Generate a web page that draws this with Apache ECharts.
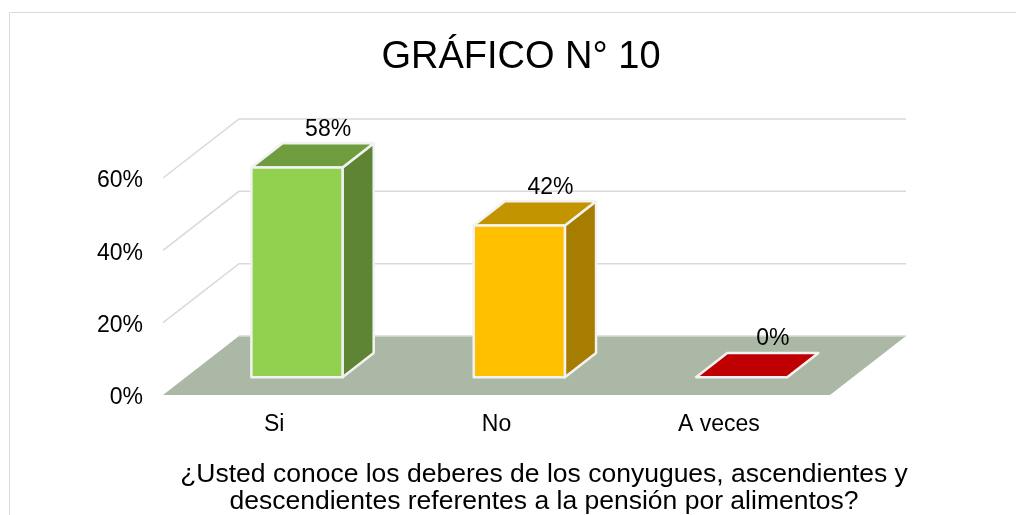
<!DOCTYPE html>
<html>
<head>
<meta charset="utf-8">
<script src="https://cdn.jsdelivr.net/npm/echarts@6/dist/echarts.min.js"></script>
<style>
html,body{margin:0;padding:0;background:#fff;}
#chart{width:1016px;height:515px;}
</style>
</head>
<body>
<div id="chart"></div>
<script>
// ---- data ----
const categories = ['Si', 'No', 'A veces'];
const values = [0.58, 0.42, 0];
const yTicks = [0, 0.2, 0.4, 0.6];
const titleText = 'GRÁFICO N° 10';
const axisTitleLines = ['¿Usted conoce los deberes de los conyugues, ascendientes y', 'descendientes referentes a la pensión por alimentos?'];

// ---- styles ----
const frontColors = ['#92D050', '#FFC000', '#C00000'];
const topColors = ['#6F9C3C', '#C29400', '#C00000'];
const sideColors = ['#5E8533', '#A67D00', '#900000'];
const FONT = '"Liberation Sans", Arial, sans-serif';
const DX = 76, DY = -59;      // depth projection vector (full depth)
const D0 = 0.30, D1 = 0.71;   // bar depth span
const BAR_W = 0.41;

const chart = echarts.init(document.getElementById('chart'), null, {renderer: 'canvas'});

const option = {
  animation: false,
  backgroundColor: '#fff',
  grid: {left: 163, right: 186, top: 178, bottom: 120},
  xAxis: {
    type: 'category', data: categories,
    axisLine: {show: false}, axisTick: {show: false},
    axisLabel: {fontSize: 23, color: '#000', margin: 18, fontFamily: FONT},
    splitLine: {show: false}
  },
  yAxis: {
    type: 'value', min: 0, max: 0.6, interval: 0.2,
    axisLine: {show: false}, axisTick: {show: false},
    axisLabel: {fontSize: 23, color: '#000', margin: 20, fontFamily: FONT,
      formatter: v => '{a|' + Math.round(v * 100) + '%}',
      rich: {a: {fontSize: 23, color: '#000', fontFamily: FONT, padding: [6, 0, 0, 0]}}},
    splitLine: {show: false}
  },
  graphic: [
    {type: 'rect', shape: {x: 9.5, y: 12.5, width: 1100, height: 600},
      style: {fill: 'none', stroke: '#D9D9D9', lineWidth: 1}, z: -10, silent: true},
    {type: 'text', x: 521, y: 58,
      style: {text: titleText, fill: '#000', font: '38px ' + FONT, align: 'center', verticalAlign: 'middle'}},
    {type: 'text', x: 544, y: 461,
      style: {text: axisTitleLines.join('\n'), fill: '#000', font: '26.5px ' + FONT, lineHeight: 27,
        align: 'center', verticalAlign: 'top'}}
  ],
  series: [
    {
      type: 'custom', name: 'scene', clip: false, z: 1,
      data: [[0, 0]],
      renderItem: function (params, api) {
        const cs = params.coordSys;
        const x0 = cs.x, x1 = cs.x + cs.width;
        const children = [];
        yTicks.forEach(function (v) {
          if (v === 0) return;
          const y = api.coord([0, v])[1];
          children.push({type: 'polyline', shape: {points: [[x0, y], [x0 + DX, y + DY], [x1 + DX, y + DY]]},
            style: {stroke: '#D9D9D9', lineWidth: 1.5, fill: 'none'}});
        });
        const yb = api.coord([0, 0])[1];
        children.push({type: 'polygon', shape: {points: [[x0, yb], [x1, yb], [x1 + DX, yb + DY], [x0 + DX, yb + DY]]},
          style: {fill: '#ABB8A5', stroke: 'none'}});
        children.push({type: 'line', shape: {x1: x0 + DX, y1: yb + DY, x2: x1 + DX, y2: yb + DY},
          style: {stroke: '#D9D9D9', lineWidth: 1.5}});
        return {type: 'group', children: children};
      }
    },
    {
      type: 'custom', name: 'bars', clip: false, z: 2,
      data: values.map((v, i) => [i, v]),
      encode: {x: 0, y: 1},
      renderItem: function (params, api) {
        const i = api.value(0), v = api.value(1);
        const base = api.coord([i, 0]);
        const top = api.coord([i, v]);
        const w = api.size([1, 0])[0] * BAR_W;
        const L = base[0] - w / 2, R = base[0] + w / 2;
        const yb = base[1], yt = top[1];
        const o0 = [D0 * DX, D0 * DY], o1 = [D1 * DX, D1 * DY];
        const P = (x, y, o) => [x + o[0], y + o[1]];
        const edge = {stroke: '#F2F2F2', lineWidth: 2.5, lineJoin: 'round'};
        const children = [];
        if (v > 0) {
          children.push({type: 'polygon', shape: {points: [P(R, yt, o0), P(R, yt, o1), P(R, yb, o1), P(R, yb, o0)]},
            style: Object.assign({fill: sideColors[i]}, edge)});
        }
        children.push({type: 'polygon', shape: {points: [P(L, yt, o0), P(R, yt, o0), P(R, yt, o1), P(L, yt, o1)]},
          style: Object.assign({fill: topColors[i]}, edge)});
        if (v > 0) {
          children.push({type: 'polygon', shape: {points: [P(L, yt, o0), P(R, yt, o0), P(R, yb, o0), P(L, yb, o0)]},
            style: Object.assign({fill: frontColors[i]}, edge)});
        }
        const lab = P(base[0], yt, o1);
        children.push({type: 'text', x: lab[0], y: lab[1] - 14,
          style: {text: Math.round(v * 100) + '%', fill: '#000', font: '23px ' + FONT, align: 'center', verticalAlign: 'middle'}});
        return {type: 'group', children: children};
      }
    }
  ]
};
chart.setOption(option);
</script>
</body>
</html>
